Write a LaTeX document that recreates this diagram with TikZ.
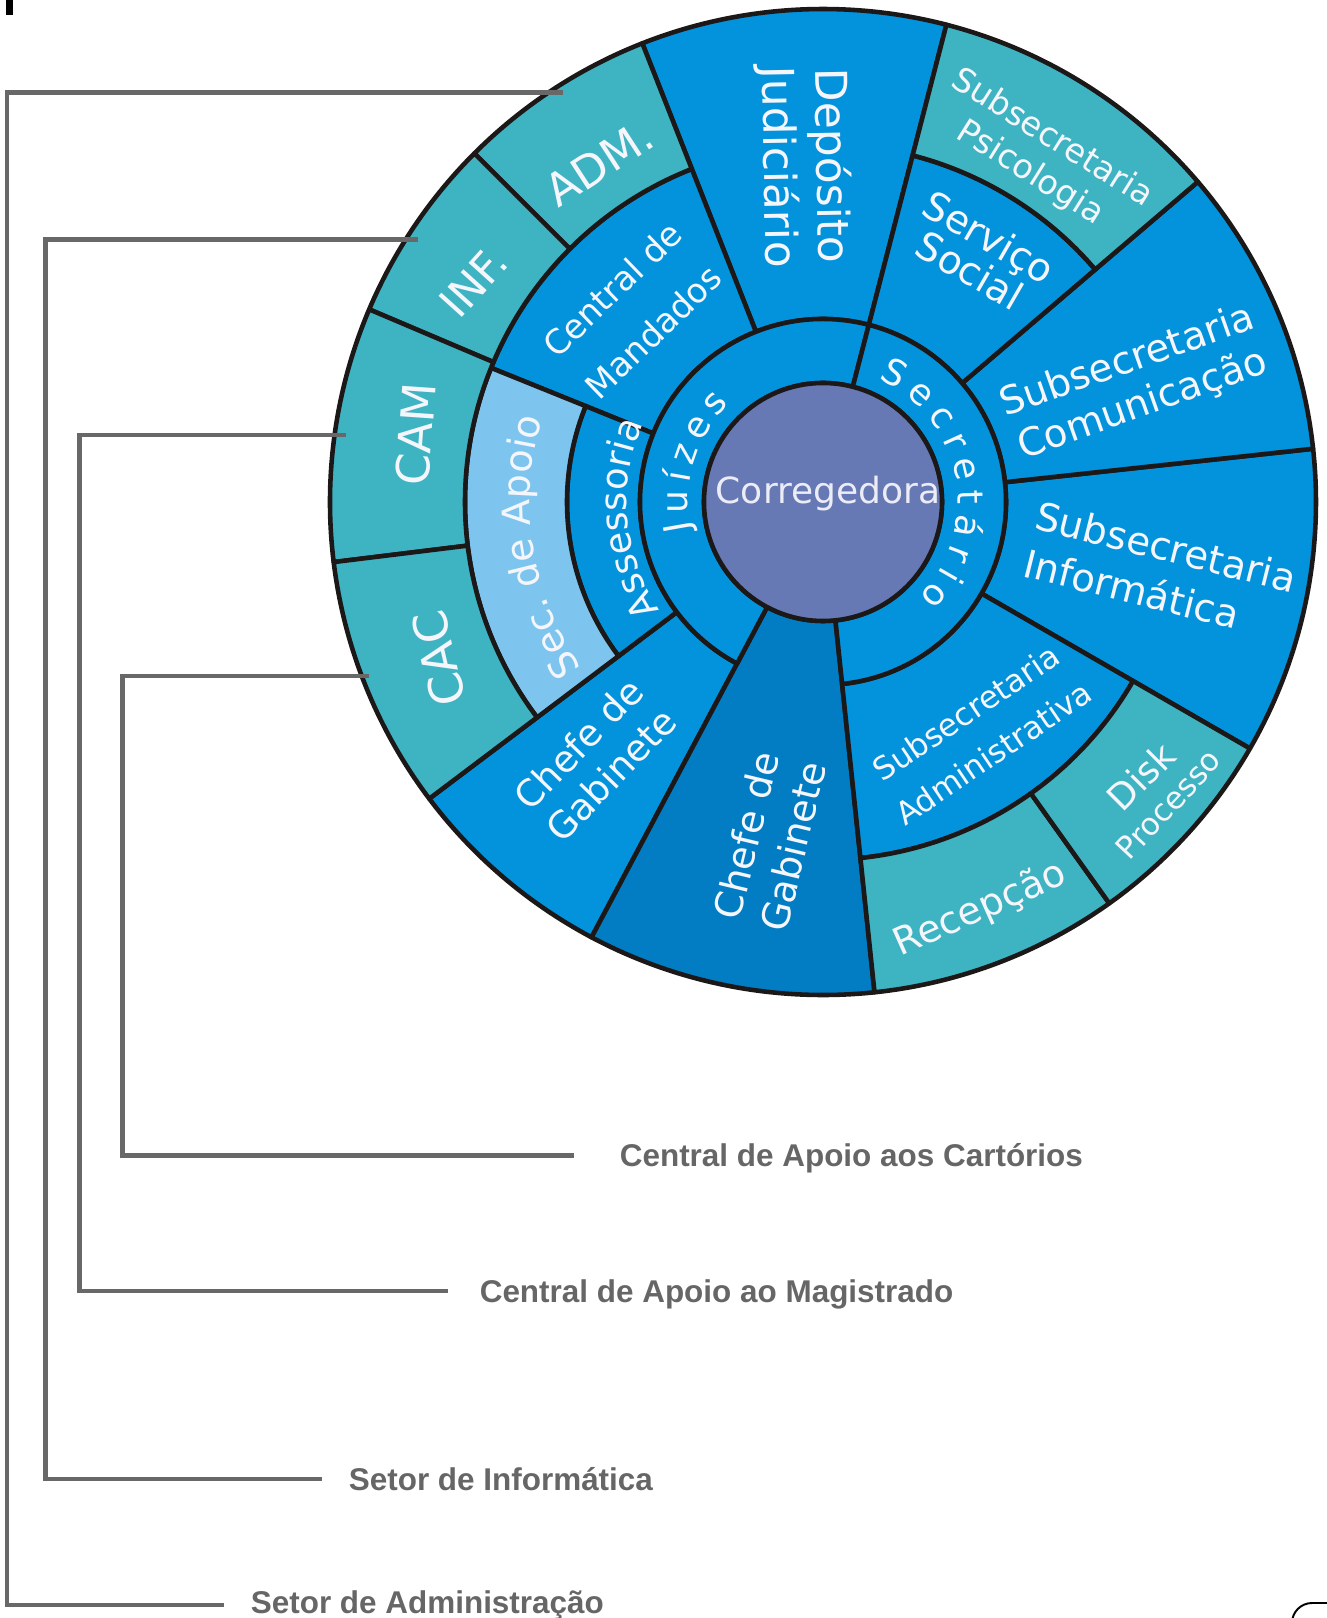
\documentclass[tikz,border=0pt]{standalone}
\usepackage{fontspec}
\usepackage{tikz}
\usetikzlibrary{decorations.text}
\newfontfamily\wheelfont{DejaVu Sans}
\newfontfamily\labelfont{Liberation Sans}
\definecolor{tealring}{RGB}{62, 179, 194}
\definecolor{wheelblue}{RGB}{3, 146, 220}
\definecolor{darkblue}{RGB}{2, 125, 195}
\definecolor{lightblue}{RGB}{125, 197, 238}
\definecolor{corrpurple}{RGB}{102, 121, 181}
\definecolor{corrtext}{RGB}{236, 236, 246}
\definecolor{wheelline}{RGB}{28, 24, 24}
\definecolor{wheelwhite}{RGB}{244, 246, 252}
\definecolor{leadergray}{RGB}{104, 104, 104}
\definecolor{labelgray}{RGB}{102, 102, 102}

\tikzset{
  sector/.style={draw=wheelline, line width=2.6pt, line join=round},
  wheeltext/.style={text=wheelwhite, align=center, inner sep=0pt},
  ringletter/.style={text=wheelwhite, inner sep=0pt, anchor=base,
    font=\wheelfont\fontsize{20.5}{24}\selectfont},
  leader/.style={draw=leadergray, line width=2.8pt},
  sectorlabel/.style={text=labelgray, anchor=west, inner xsep=15.1pt, inner ysep=0pt,
    text height=12.8pt, text depth=0pt,
    font=\labelfont\bfseries\fontsize{17.9}{21}\selectfont}
}

\begin{document}
\begin{tikzpicture}[x=0.02cm, y=0.02cm]
  % Frame to keep the screenshot size:
  \useasboundingbox (-823, 502) rectangle (504, -1116);

  % Sectors reaching the outer circle:
  \filldraw[sector, fill=wheelblue] (  75.5:183) -- (  75.5:493) arc[start angle=  75.5, end angle= 111.5, radius=493] -- ( 111.5:183) arc[start angle= 111.5, end angle=  75.5, radius=183] -- cycle;
  \filldraw[sector, fill=wheelblue] ( 217.0:183) -- ( 217.0:493) arc[start angle= 217.0, end angle= 242.0, radius=493] -- ( 242.0:183) arc[start angle= 242.0, end angle= 217.0, radius=183] -- cycle;
  \filldraw[sector, fill=darkblue]  ( 242.0:119) -- ( 242.0:493) arc[start angle= 242.0, end angle= 276.0, radius=493] -- ( 276.0:119) arc[start angle= 276.0, end angle= 242.0, radius=119] -- cycle;
  \filldraw[sector, fill=wheelblue] ( -30.0:183) -- ( -30.0:493) arc[start angle= -30.0, end angle=   6.2, radius=493] -- (   6.2:183) arc[start angle=   6.2, end angle= -30.0, radius=183] -- cycle;
  \filldraw[sector, fill=wheelblue] (   6.2:183) -- (   6.2:493) arc[start angle=   6.2, end angle=  40.5, radius=493] -- (  40.5:183) arc[start angle=  40.5, end angle=   6.2, radius=183] -- cycle;

  % Middle ring:
  \filldraw[sector, fill=wheelblue] ( 111.5:183) -- ( 111.5:358) arc[start angle= 111.5, end angle= 158.0, radius=358] -- ( 158.0:183) arc[start angle= 158.0, end angle= 111.5, radius=183] -- cycle;
  \filldraw[sector, fill=wheelblue] ( 158.0:183) -- ( 158.0:256) arc[start angle= 158.0, end angle= 217.0, radius=256] -- ( 217.0:183) arc[start angle= 217.0, end angle= 158.0, radius=183] -- cycle;
  \filldraw[sector, fill=lightblue] ( 158.0:256) -- ( 158.0:358) arc[start angle= 158.0, end angle= 217.0, radius=358] -- ( 217.0:256) arc[start angle= 217.0, end angle= 158.0, radius=256] -- cycle;
  \filldraw[sector, fill=wheelblue] ( -84.0:183) -- ( -84.0:358) arc[start angle= -84.0, end angle= -30.0, radius=358] -- ( -30.0:183) arc[start angle= -30.0, end angle= -84.0, radius=183] -- cycle;
  \filldraw[sector, fill=wheelblue] (  40.5:183) -- (  40.5:358) arc[start angle=  40.5, end angle=  75.5, radius=358] -- (  75.5:183) arc[start angle=  75.5, end angle=  40.5, radius=183] -- cycle;

  % Outer teal ring:
  \filldraw[sector, fill=tealring]  ( 111.5:358) -- ( 111.5:493) arc[start angle= 111.5, end angle= 135.0, radius=493] -- ( 135.0:358) arc[start angle= 135.0, end angle= 111.5, radius=358] -- cycle;
  \filldraw[sector, fill=tealring]  ( 135.0:358) -- ( 135.0:493) arc[start angle= 135.0, end angle= 157.0, radius=493] -- ( 157.0:358) arc[start angle= 157.0, end angle= 135.0, radius=358] -- cycle;
  \filldraw[sector, fill=tealring]  ( 157.0:358) -- ( 157.0:493) arc[start angle= 157.0, end angle= 187.0, radius=493] -- ( 187.0:358) arc[start angle= 187.0, end angle= 157.0, radius=358] -- cycle;
  \filldraw[sector, fill=tealring]  ( 187.0:358) -- ( 187.0:493) arc[start angle= 187.0, end angle= 217.0, radius=493] -- ( 217.0:358) arc[start angle= 217.0, end angle= 187.0, radius=358] -- cycle;
  \filldraw[sector, fill=tealring]  ( -84.0:358) -- ( -84.0:493) arc[start angle= -84.0, end angle= -54.5, radius=493] -- ( -54.5:358) arc[start angle= -54.5, end angle= -84.0, radius=358] -- cycle;
  \filldraw[sector, fill=tealring]  ( -54.5:358) -- ( -54.5:493) arc[start angle= -54.5, end angle= -30.0, radius=493] -- ( -30.0:358) arc[start angle= -30.0, end angle= -54.5, radius=358] -- cycle;
  \filldraw[sector, fill=tealring]  (  40.5:358) -- (  40.5:493) arc[start angle=  40.5, end angle=  75.5, radius=493] -- (  75.5:358) arc[start angle=  75.5, end angle=  40.5, radius=358] -- cycle;

  % Inner ring:
  \filldraw[sector, fill=wheelblue] (  75.5:119) -- (  75.5:183) arc[start angle=  75.5, end angle= 242.0, radius=183] -- ( 242.0:119) arc[start angle= 242.0, end angle=  75.5, radius=119] -- cycle;
  \filldraw[sector, fill=wheelblue] ( -84.0:119) -- ( -84.0:183) arc[start angle= -84.0, end angle=  75.5, radius=183] -- (  75.5:119) arc[start angle=  75.5, end angle= -84.0, radius=119] -- cycle;

  % Centre:
  \filldraw[sector, fill=corrpurple] (0, 0) circle[radius=119];
  \node[wheeltext, text=corrtext, font=\wheelfont\fontsize{20.5}{24}\selectfont] (corregedora) at (5, 8) {Corregedora};

  % Spaced letters on the inner ring:
  \node[ringletter, rotate= 100.0] (jz1) at ( 190.0:135) {J};
  \node[ringletter, rotate=  89.9] (jz2) at ( 179.9:135) {u};
  \node[ringletter, rotate=  80.0] (jz3) at ( 170.0:135) {í};
  \node[ringletter, rotate=  70.8] (jz4) at ( 160.8:135) {z};
  \node[ringletter, rotate=  59.2] (jz5) at ( 149.2:135) {e};
  \node[ringletter, rotate=  47.6] (jz6) at ( 137.6:135) {s};
  \node[ringletter, rotate= -29.0] (sc1) at (  61.0:135) {S};
  \node[ringletter, rotate= -42.1] (sc2) at (  47.9:135) {e};
  \node[ringletter, rotate= -54.5] (sc3) at (  35.5:135) {c};
  \node[ringletter, rotate= -65.5] (sc4) at (  24.5:135) {r};
  \node[ringletter, rotate= -77.0] (sc5) at (  13.0:135) {e};
  \node[ringletter, rotate= -88.3] (sc6) at (   1.7:135) {t};
  \node[ringletter, rotate= -99.6] (sc7) at (  -9.6:135) {á};
  \node[ringletter, rotate=-111.0] (sc8) at ( -21.0:135) {r};
  \node[ringletter, rotate=-120.0] (sc9) at ( -30.0:135) {i};
  \node[ringletter, rotate=-130.2] (sc10) at ( -40.2:135) {o};

  % Curved texts:
  \path[decorate, decoration={text along path, text align=center, text color=wheelwhite,
        text={|\wheelfont\fontsize{21.8}{25}\selectfont|Sec. de Apoio}}]
        (232:293) arc[start angle=232, end angle=146, radius=293];
  \path[decorate, decoration={text along path, text align=center, text color=wheelwhite,
        text={|\wheelfont\fontsize{21}{24}\selectfont|Assessoria}}]
        (228:196) arc[start angle=228, end angle=142, radius=196];

  % Sector texts:
  \node[wheeltext, rotate=  33.0, font=\wheelfont\fontsize{25.5}{29}\selectfont]   (adm)            at ( 123.4:406) {ADM.};
  \node[wheeltext, rotate=  48.0, font=\wheelfont\fontsize{24.5}{29}\selectfont]   (inf)            at ( 147.8:413) {INF.};
  \node[wheeltext, rotate=  86.0, font=\wheelfont\fontsize{26}{29}\selectfont]     (cam)            at ( 170.5:413) {CAM};
  \node[wheeltext, rotate= 103.0, font=\wheelfont\fontsize{26.5}{29}\selectfont]   (cac)            at ( 202.2:415) {CAC};
  \node[wheeltext, rotate= -89.0, font=\wheelfont\fontsize{25}{30}\selectfont]     (deposito)       at (  93.3:336) {Depósito\\Judiciário};
  \node[wheeltext, rotate= -32.0, font=\wheelfont\fontsize{19}{23.3}\selectfont]   (psicologia)     at (  57.8:409) {Subsecretaria\\Psicologia};
  \node[wheeltext, rotate= -30.0, font=\wheelfont\fontsize{22.2}{22}\selectfont]   (servico)        at (  57.8:294) {Serviço\\Social};
  \node[wheeltext, rotate=  19.5, font=\wheelfont\fontsize{22}{26.4}\selectfont]   (comunicacao)    at (  20.8:334) {Subsecretaria\\Comunicação};
  \node[wheeltext, rotate= -14.0, align=left, font=\wheelfont\fontsize{22}{28}\selectfont] (informatica) at ( -11.5:344) {Subsecretaria\\Informática};
  \node[wheeltext, rotate=  44.0, font=\wheelfont\fontsize{19.3}{33.6}\selectfont] (mandados)       at ( 134.8:270) {Central de\\Mandados};
  \node[wheeltext, rotate=  46.0, font=\wheelfont\fontsize{21}{25.5}\selectfont]   (chefe-a)        at ( 228.4:344) {Chefe de\\Gabinete};
  \node[wheeltext, rotate=  76.5, font=\wheelfont\fontsize{21.6}{27.3}\selectfont] (chefe-b)        at ( 261.0:343) {Chefe de\\Gabinete};
  \node[wheeltext, rotate=  34.0, font=\wheelfont\fontsize{17.9}{27.9}\selectfont] (administrativa) at ( -55.8:279) {Subsecretaria\\Administrativa};
  \node[wheeltext, rotate=  45.0, font=\wheelfont\fontsize{20.6}{24}\selectfont]   (disk)           at ( -40.8:420) {Disk};
  \node[wheeltext, rotate=  47.0, font=\wheelfont\fontsize{17.6}{21}\selectfont]   (processo)       at ( -41.2:459) {Processo};
  \node[wheeltext, rotate=  24.0, font=\wheelfont\fontsize{21.6}{26}\selectfont]   (recepcao)       at ( -68.9:437) {Recepção};

  % Leaders to the captions:
  \coordinate (adm-tip)  at (-260.0,  409.3);
  \coordinate (adm-bend) at (-816.0,  409.3);
  \coordinate (inf-tip)  at (-405.0,  262.7);
  \coordinate (inf-bend) at (-777.5,  262.7);
  \coordinate (cam-tip)  at (-477.0,   67.0);
  \coordinate (cam-bend) at (-743.9,   67.0);
  \coordinate (cac-tip)  at (-453.7, -174.0);
  \coordinate (cac-bend) at (-700.5, -174.0);

  \node[sectorlabel, inner xsep=25.9pt] (lbl-cac) at (-249.0,  -653.5) {Central de Apoio aos Cartórios};
  \node[sectorlabel, inner xsep=17.9pt] (lbl-cam) at (-375.0,  -789.0) {Central de Apoio ao Magistrado};
  \node[sectorlabel]                    (lbl-inf) at (-501.0,  -977.0) {Setor de Informática};
  \node[sectorlabel, text depth=3.4pt]  (lbl-adm) at (-599.0, -1103.0) {Setor de Administração};

  \draw[leader] (adm-tip) -- (adm-bend) |- (lbl-adm.west);
  \draw[leader] (inf-tip) -- (inf-bend) |- (lbl-inf.west);
  \draw[leader] (cam-tip) -- (cam-bend) |- (lbl-cam.west);
  \draw[leader] (cac-tip) -- (cac-bend) |- (lbl-cac.west);

  % Edge marks of the screenshot:
  \fill[black] (-816.7, 502) rectangle (-810.4, 487);
  \draw[black, line width=1.1pt] (469, -1121) arc[start angle=180, end angle=90, radius=20] -- (506, -1101);
\end{tikzpicture}
\end{document}
